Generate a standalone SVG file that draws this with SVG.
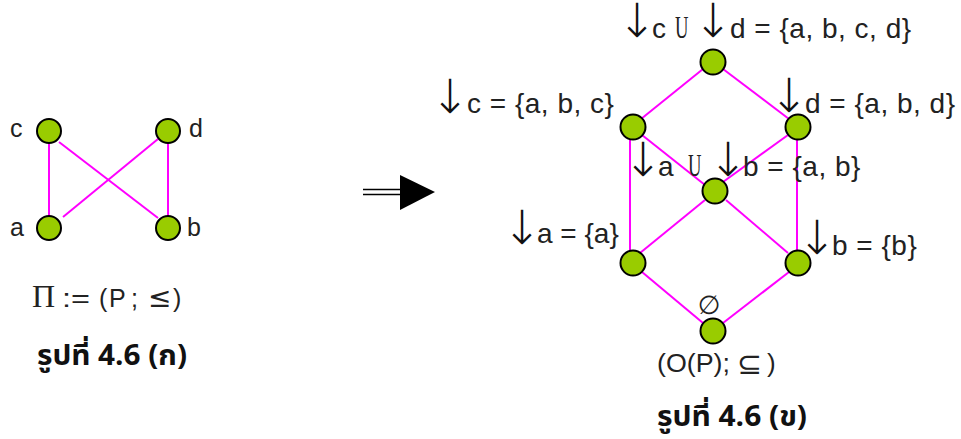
<svg xmlns="http://www.w3.org/2000/svg" width="961" height="439" viewBox="0 0 961 439">
<style>
.edge{stroke:#ff00ff;stroke-width:2;fill:none}
.node{fill:#99cc00;stroke:#000;stroke-width:2}
.lbl{font-family:"Liberation Sans",Arial,sans-serif;fill:#222}
.r{font-size:28px}
.t{letter-spacing:0.5px}
.sym{font-family:"DejaVu Sans",sans-serif;fill:#222}
.arr{font-family:"DejaVu Sans",sans-serif;font-weight:200;fill:#111;font-size:47px}
.un{font-family:"Liberation Serif","Times New Roman",serif;fill:#222}
.cap{font-family:"Noto Sans Thai","Noto Sans","DejaVu Sans",sans-serif;font-weight:bold;fill:#111;font-size:28px}
</style>
<rect width="961" height="439" fill="#fff"/>
<g id="connectors">
<line class="edge" x1="49" y1="143" x2="49" y2="217"/>
<line class="edge" x1="168" y1="143" x2="168" y2="217"/>
<line class="edge" x1="59" y1="142" x2="158" y2="218"/>
<line class="edge" x1="158" y1="139" x2="63" y2="217"/>
<line class="edge" x1="703" y1="69" x2="641" y2="119"/>
<line class="edge" x1="723" y1="69" x2="789" y2="119"/>
<line class="edge" x1="630" y1="139" x2="630" y2="252"/>
<line class="edge" x1="797" y1="139" x2="797" y2="252"/>
<line class="edge" x1="642" y1="135" x2="705" y2="185"/>
<line class="edge" x1="788" y1="135" x2="723" y2="182"/>
<line class="edge" x1="705" y1="200" x2="640" y2="253"/>
<line class="edge" x1="726" y1="200" x2="788" y2="253"/>
<line class="edge" x1="642" y1="272" x2="703" y2="323"/>
<line class="edge" x1="789" y1="272" x2="723" y2="323"/>
</g>
<g id="n-c"><circle class="node" cx="49" cy="131" r="12"/><text class="lbl" x="10" y="137" font-size="25">c</text></g>
<g id="n-d"><circle class="node" cx="168" cy="131" r="12"/><text class="lbl" x="189" y="137" font-size="25">d</text></g>
<g id="n-a"><circle class="node" cx="49" cy="228" r="12"/><text class="lbl" x="10" y="236" font-size="25">a</text></g>
<g id="n-b"><circle class="node" cx="168" cy="228" r="12"/><text class="lbl" x="187" y="236" font-size="25">b</text></g>
<g id="title-left">
<text class="un" x="32" y="307" font-size="32">Π</text>
<text class="lbl" y="307" font-size="25"><tspan x="62" textLength="28" lengthAdjust="spacingAndGlyphs">:=</tspan><tspan x="99">(</tspan><tspan x="109">P</tspan><tspan x="131">;</tspan><tspan class="sym" x="148" font-size="28">≤</tspan><tspan x="173">)</tspan></text>
<text class="cap" x="37" y="365" textLength="150" lengthAdjust="spacingAndGlyphs">รูปที่ 4.6 (ก)</text>
</g>
<g id="implies">
<line x1="363" y1="189.5" x2="402" y2="189.5" stroke="#000" stroke-width="1.6"/>
<line x1="363" y1="194.5" x2="402" y2="194.5" stroke="#000" stroke-width="1.6"/>
<polygon points="400,175 435,192 400,210" fill="#000"/>
</g>
<g id="n-top"><circle class="node" cx="713" cy="62" r="12.5"/>
<text class="lbl r" y="38"><tspan class="arr" x="617.3" dy="-1">↓</tspan><tspan x="652" dy="1">c</tspan></text>
<text class="un" transform="translate(675,38) scale(0.6,1)" font-size="31">U</text>
<text class="lbl r" y="38"><tspan class="arr" x="693.3" dy="-1">↓</tspan><tspan class="t" x="730" dy="1">d = {a, b, c, d}</tspan></text>
</g>
<g id="n-abc"><circle class="node" cx="633" cy="127" r="12.5"/>
<text class="lbl r" y="113"><tspan class="arr" x="430.3">↓</tspan><tspan class="t" x="467">c = {a, b, c}</tspan></text>
</g>
<g id="n-abd"><circle class="node" cx="798" cy="127" r="12.5"/>
<text class="lbl r" y="113"><tspan class="arr" x="769.3" dy="-1">↓</tspan><tspan class="t" x="805" dy="1">d = {a, b, d}</tspan></text>
</g>
<g id="n-ab"><circle class="node" cx="715" cy="191" r="12.5"/>
<text class="lbl r" y="176"><tspan class="arr" x="623.3">↓</tspan><tspan x="658">a</tspan></text>
<text class="un" transform="translate(688,176) scale(0.6,1)" font-size="31">U</text>
<text class="lbl r" y="176"><tspan class="arr" x="708.3">↓</tspan><tspan class="t" x="743">b = {a, b}</tspan></text>
</g>
<g id="n-ca"><circle class="node" cx="633" cy="263" r="12.5"/>
<text class="lbl r" y="243"><tspan class="arr" x="502.3" dy="1">↓</tspan><tspan x="537" dy="-1">a = {a}</tspan></text>
</g>
<g id="n-cb"><circle class="node" cx="798" cy="263" r="12.5"/>
<text class="lbl r" y="255"><tspan class="arr" x="797.3" dy="-1">↓</tspan><tspan class="t" x="832" dy="1">b = {b}</tspan></text>
</g>
<g id="n-empty"><circle class="node" cx="713" cy="331" r="12.5"/>
<text class="sym" x="709" y="314" font-size="26" text-anchor="middle">∅</text>
</g>
<g id="title-right">
<text class="lbl" y="372" font-size="26"><tspan x="657" textLength="73" lengthAdjust="spacingAndGlyphs">(O(P);</tspan><tspan class="sym" x="737" dy="2" font-size="30">⊆</tspan><tspan x="767" dy="-2">)</tspan></text>
<text class="cap" x="657" y="426" textLength="150" lengthAdjust="spacingAndGlyphs">รูปที่ 4.6 (ข)</text>
</g>
</svg>
